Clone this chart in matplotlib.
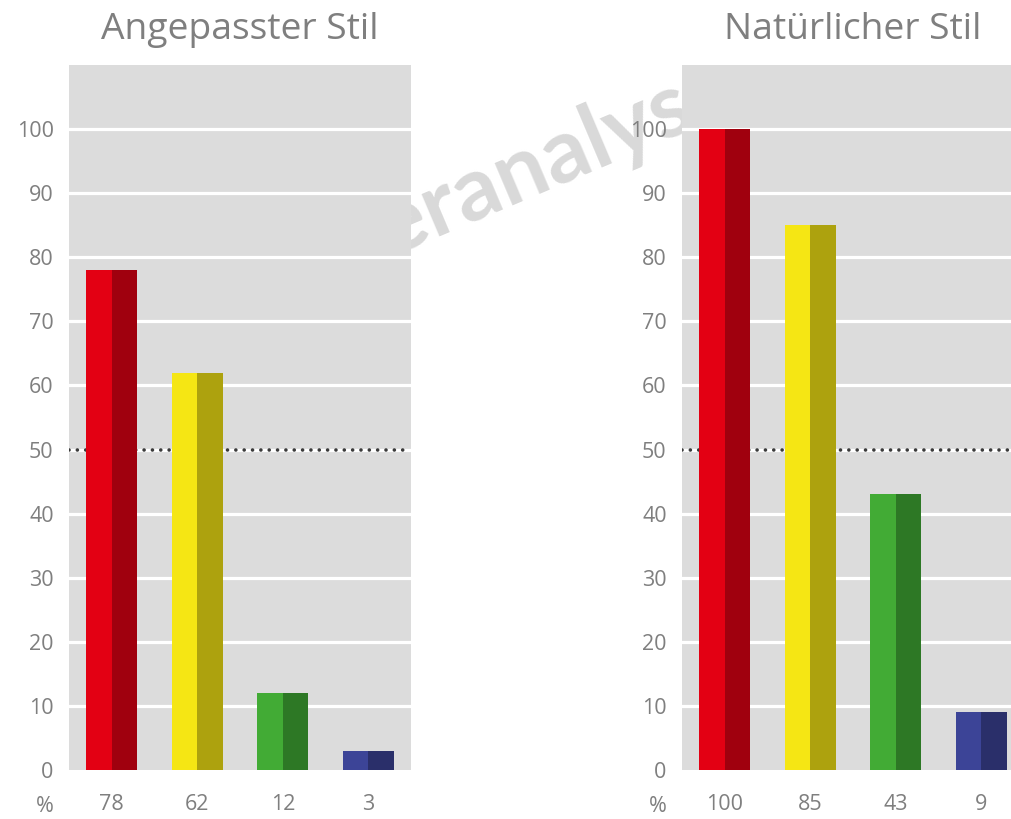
import numpy as np
import matplotlib.pyplot as plt

# values
titles = ['Angepasster Stil', 'Natürlicher Stil']
values_left = [78, 62, 12, 3]
values_right = [100, 85, 43, 9]
light_colors = ['#E30013', '#F5E614', '#42AB35', '#3C4497']
dark_colors = ['#A0000E', '#ADA20E', '#2D7825', '#2A2F6A']
y_ticks = [0, 10, 20, 30, 40, 50, 60, 70, 80, 90, 100]
threshold = 50

plt.rcParams['font.family'] = ['Open Sans', 'DejaVu Sans']
grey = '#7F7F7F'

fig = plt.figure(figsize=(10.12, 8.19), dpi=100)
fig.patch.set_facecolor('white')

# watermark, sits behind the panels (only the gap between them shows it)
fig.text(390 / 1012, 1 - 256 / 819, 'eranalys', rotation=23, fontsize=65, fontweight='bold',
         family=['Lato', 'DejaVu Sans'], color='#D9D9D9', ha='left', va='baseline',
         rotation_mode='anchor', zorder=-1)

positions = [[69 / 1012, 49 / 819, 342 / 1012, 705 / 819],
             [682 / 1012, 49 / 819, 342 / 1012, 705 / 819]]

for pos, title, vals in zip(positions, titles, [values_left, values_right]):
    ax = fig.add_axes(pos)
    ax.set_facecolor('#DCDCDC')
    x = np.arange(len(vals))
    ax.bar(x - 0.15, vals, width=0.3, color=light_colors, zorder=3)
    ax.bar(x + 0.15, vals, width=0.3, color=dark_colors, zorder=3)

    for t in y_ticks[1:]:
        ax.axhline(t, color='white', lw=2.3, zorder=1)
    ax.axhline(threshold, color='#3A3A3A', lw=2.6, linestyle=(0, (0.01, 2.3)),
               dash_capstyle='round', zorder=2)

    ax.set_xlim(-0.5, 3.5)
    ax.set_ylim(0, 110)
    ax.set_yticks(y_ticks)
    ax.set_xticks(x)
    ax.set_xticklabels([str(v) for v in vals])
    ax.tick_params(axis='both', length=0, labelsize=15.5, labelcolor=grey)
    ax.tick_params(axis='y', pad=11)
    ax.tick_params(axis='x', pad=17)
    for s in ax.spines.values():
        s.set_visible(False)

    ax.annotate('%', xy=(-0.78, 0), xycoords=('data', 'axes fraction'),
                xytext=(0, -36), textcoords='offset pixels', ha='center', va='center',
                fontsize=15.5, color=grey, annotation_clip=False)
    ax.set_title(title, fontsize=26.8, color=grey, pad=19)

fig.savefig('out.png', dpi=100)
